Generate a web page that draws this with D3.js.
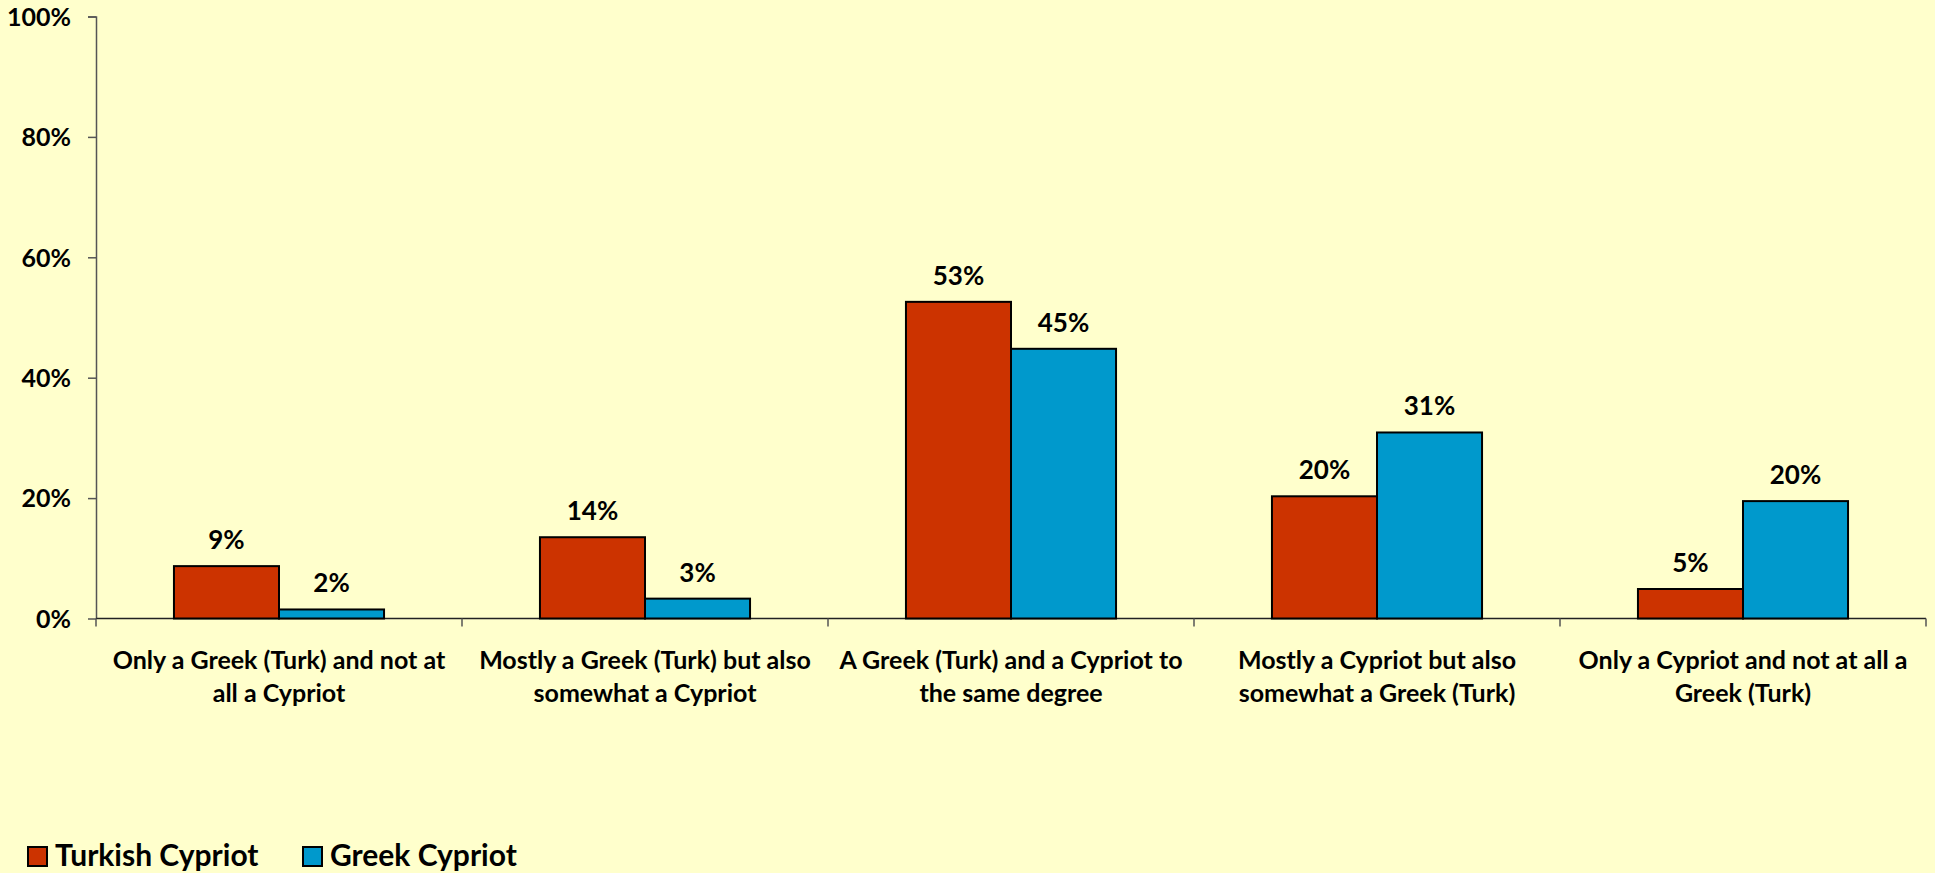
<!DOCTYPE html>
<html>
<head>
<meta charset="utf-8">
<script src="https://cdn.jsdelivr.net/npm/d3@7"></script>
<style>
  body { margin: 0; background: #FFFFCC; }
  svg { display: block; font-family: Lato, "Open Sans", sans-serif; font-weight: bold; }
</style>
</head>
<body>
<svg id="chart" width="1935" height="873"></svg>
<script>
// categories, wrapped as in the original
var categories = [
    ["Only a Greek (Turk) and not at", "all a Cypriot"],
    ["Mostly a Greek (Turk) but also", "somewhat a Cypriot"],
    ["A Greek (Turk) and a Cypriot to", "the same degree"],
    ["Mostly a Cypriot but also", "somewhat a Greek (Turk)"],
    ["Only a Cypriot and not at all a", "Greek (Turk)"]
];
var series_names = ["Turkish Cypriot", "Greek Cypriot"];
var turkish_values = [8.7, 13.5, 52.6, 20.3, 4.9];
var greek_values = [1.5, 3.3, 44.8, 30.9, 19.5];
var y_ticks = [0, 20, 40, 60, 80, 100];
var colors = ["#CC3300", "#0099CC"];

var svg = d3.select("#chart");
var margin = {left: 96, right: 9, top: 16.5, bottom: 254.5};
var width = 1935 - margin.left - margin.right;
var height = 873 - margin.top - margin.bottom;

var g = svg.append("g").attr("transform", "translate(" + margin.left + "," + margin.top + ")");

var x = d3.scaleBand().domain(d3.range(categories.length)).range([0, width]).paddingInner(0).paddingOuter(0);
var y = d3.scaleLinear().domain([0, 100]).range([height, 0]);

var bar_w = x.bandwidth() * 0.287;
var xs = d3.scaleBand().domain([0, 1]).range([x.bandwidth() / 2 - bar_w, x.bandwidth() / 2 + bar_w]);

// y axis
var yAxis = g.append("g")
    .call(d3.axisLeft(y).tickValues(y_ticks).tickSize(8).tickFormat(d => d + "%"));
yAxis.select(".domain").attr("stroke", "#555").attr("stroke-width", 1.5).attr("d", "M-8,0.5H0.5V" + height);
yAxis.selectAll(".tick line").attr("stroke", "#555").attr("stroke-width", 1.5);
yAxis.selectAll(".tick text").attr("x", -25).attr("dy", "0.35em")
    .style("font-size", "25px").style("font-family", "Lato, sans-serif").style("font-weight", "bold").attr("fill", "#000");

// x axis with ticks between categories
var xAxis = g.append("g").attr("transform", "translate(0," + height + ")");
xAxis.append("line").attr("x1", 0).attr("x2", width).attr("stroke", "#222").attr("stroke-width", 1.5);
xAxis.selectAll(".xtick")
    .data(d3.range(categories.length + 1))
    .enter()
    .append("line")
    .attr("class", "xtick")
    .attr("x1", d => d * x.step())
    .attr("x2", d => d * x.step())
    .attr("y1", 0)
    .attr("y2", 8)
    .attr("stroke", "#555")
    .attr("stroke-width", 1.5);

var labels = xAxis.selectAll(".xlabel")
    .data(categories)
    .enter()
    .append("text")
    .attr("class", "xlabel")
    .attr("text-anchor", "middle")
    .attr("transform", (d, i) => "translate(" + (x(i) + x.bandwidth() / 2) + ",50)")
    .style("font-size", "25px");
labels.selectAll("tspan")
    .data(d => d)
    .enter()
    .append("tspan")
    .attr("x", 0)
    .attr("dy", (d, i) => i == 0 ? 0 : 33)
    .text(d => d);

// bars
var rows = categories.map((c, i) => [turkish_values[i], greek_values[i]]);
var groups = g.selectAll(".cat")
    .data(rows)
    .enter()
    .append("g")
    .attr("class", "cat")
    .attr("transform", (d, i) => "translate(" + x(i) + ",0)");

groups.selectAll("rect")
    .data(d => d)
    .enter()
    .append("rect")
    .attr("x", (d, i) => xs(i))
    .attr("y", d => y(d))
    .attr("width", xs.bandwidth())
    .attr("height", d => height - y(d))
    .attr("fill", (d, i) => colors[i])
    .attr("stroke", "#000")
    .attr("stroke-width", 2);

groups.selectAll(".val")
    .data(d => d)
    .enter()
    .append("text")
    .attr("class", "val")
    .attr("text-anchor", "middle")
    .attr("x", (d, i) => xs(i) + xs.bandwidth() / 2)
    .attr("y", d => y(d) - 17)
    .style("font-size", "26px")
    .text(d => Math.round(d) + "%");

// legend
var legend = svg.append("g").attr("transform", "translate(28,847)");
var items = legend.selectAll("g")
    .data(series_names)
    .enter()
    .append("g")
    .attr("transform", (d, i) => "translate(" + (i * 275) + ",0)");
items.append("rect")
    .attr("width", 19).attr("height", 19)
    .attr("fill", (d, i) => colors[i])
    .attr("stroke", "#000").attr("stroke-width", 2);
items.append("text")
    .attr("x", 27).attr("y", 19)
    .style("font-size", "30px")
    .text(d => d);
</script>
</body>
</html>
